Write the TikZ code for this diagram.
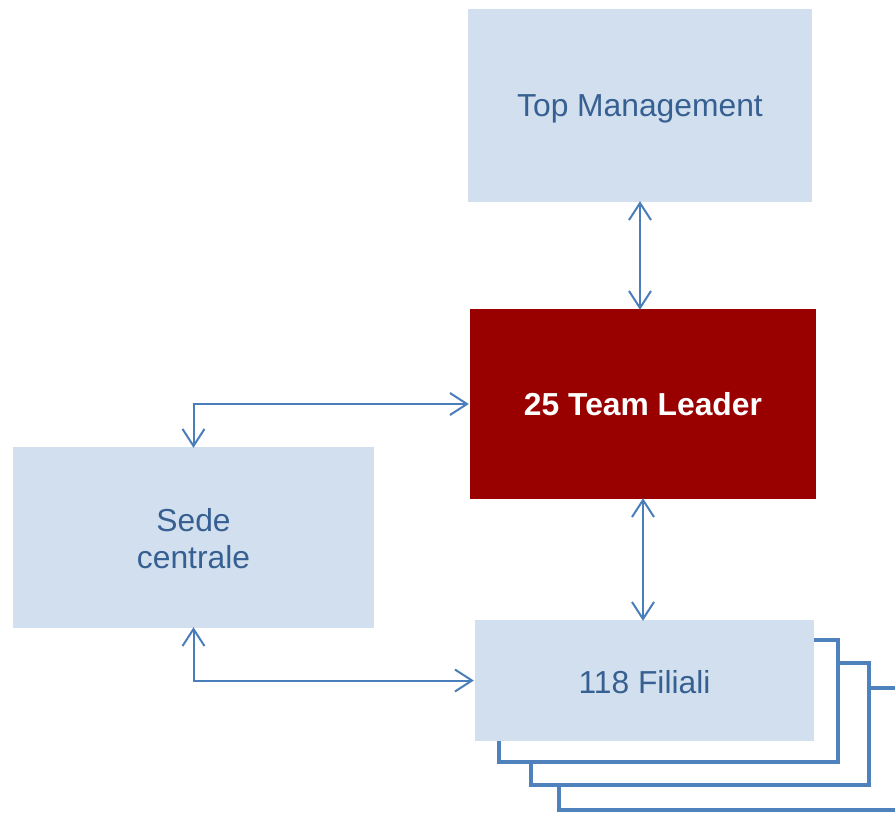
\documentclass[tikz,border=0pt]{standalone}
\usepackage{fontspec}
\setmainfont{Liberation Sans}
\usetikzlibrary{arrows.meta}
\definecolor{boxfill}{HTML}{D2DFEE}
\definecolor{txtblue}{HTML}{376092}
\definecolor{darkred}{HTML}{990000}
\definecolor{arrblue}{HTML}{4A7EBB}
\definecolor{stackblue}{HTML}{4F81BD}
\newcommand{\lowr}[2]{\raisebox{-#1}[\height][\depth]{#2}}
\begin{document}
\begin{tikzpicture}[x=1pt,y=-1pt,
  lbox/.style={rectangle, fill=boxfill, text=txtblue, inner sep=0pt, align=center,
    font=\fontsize{31.8}{37}\selectfont},
  redbox/.style={rectangle, fill=darkred, text=white, inner sep=0pt, align=center,
    font=\fontsize{31.8}{37}\selectfont\bfseries},
  arr/.style={draw=arrblue, line width=2pt, {Straight Barb[length=17pt,width=22pt]}-{Straight Barb[length=17pt,width=22pt]}},
  stack/.style={draw=stackblue, fill=white, line width=4pt}]
\useasboundingbox (0,0) rectangle (895,815);
\begin{scope}
\clip (0,0) rectangle (895,815);
\draw[stack] (559,688) rectangle (930,810);
\draw[stack] (531,663) rectangle (869,785);
\draw[stack] (499,640) rectangle (838,762);
\end{scope}
\node[lbox, minimum width=344pt, minimum height=193pt] (top) at (640,105.5) {\lowr{3pt}{Top Management}};
\node[redbox, minimum width=346pt, minimum height=190pt] (team) at (643,404) {25 Team Leader};
\node[lbox, minimum width=361pt, minimum height=181pt] (sede) at (193.5,537.5) {\lowr{1.5pt}{Sede}\\\lowr{1.5pt}{centrale}};
\node[lbox, minimum width=339pt, minimum height=121pt] (fil) at (644.5,680.5) {\lowr{2pt}{118 Filiali}};
\draw[arr] ([yshift=1pt]top.south) -- ([yshift=-1pt]top.south |- team.north);
\draw[arr] ([yshift=1pt]team.south) -- ([yshift=-1pt]team.south |- fil.north);
\draw[arr] ([xshift=-1pt]team.west) -| ([yshift=-1pt]sede.north);
\draw[arr] ([yshift=1pt]sede.south) |- ([xshift=-1pt]fil.west);
\end{tikzpicture}
\end{document}
